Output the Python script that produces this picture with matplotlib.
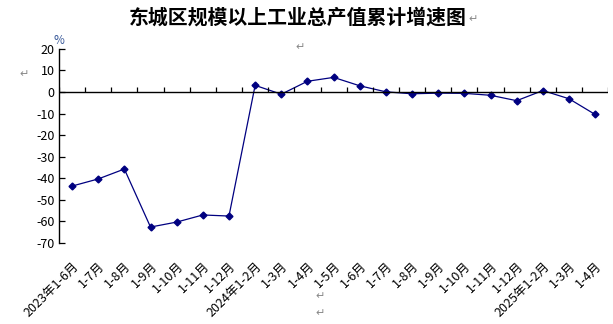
import matplotlib
matplotlib.use("Agg")
import matplotlib.pyplot as plt
import numpy as np

plt.rcParams["font.family"] = ["Noto Sans CJK SC", "DejaVu Sans"]

TITLE = "东城区规模以上工业总产值累计增速图"
periods = [
    "2023年1-6月", "1-7月", "1-8月", "1-9月", "1-10月", "1-11月", "1-12月",
    "2024年1-2月", "1-3月", "1-4月", "1-5月", "1-6月", "1-7月", "1-8月",
    "1-9月", "1-10月", "1-11月", "1-12月",
    "2025年1-2月", "1-3月", "1-4月",
]
growth = [
    -43.6, -40.3, -35.7, -62.6, -60.3, -57.0, -57.5,
    3.1, -1.0, 5.0, 6.8, 2.9, 0.1, -0.8,
    -0.5, -0.6, -1.5, -4.0,
    0.7, -3.1, -10.4,
]
yticks = [20, 10, 0, -10, -20, -30, -40, -50, -60, -70]

fig = plt.figure(figsize=(6.13, 3.24), dpi=100)
ax = fig.add_axes([0.0962, 0.25, 0.896, 0.599])

x = np.arange(len(periods))
ax.plot(x, growth, color="#000080", linewidth=0.9, marker="D",
        markersize=3.5, markerfacecolor="#000080", markeredgecolor="#000080")

ax.set_xlim(-0.5, len(periods) - 0.5)
ax.set_ylim(-70, 20)

# zero line with category boundary ticks
ax.axhline(0, color="black", linewidth=1)
ax.vlines(np.arange(len(periods) + 1) - 0.5, 0, 2.4, color="black", linewidth=0.9)

for side in ("top", "right", "bottom"):
    ax.spines[side].set_visible(False)
ax.spines["left"].set_linewidth(1)

ax.set_yticks(yticks)
ax.set_yticklabels([str(v) for v in yticks], fontsize=9)
ax.tick_params(axis="y", direction="in", length=4, width=0.9, pad=3)

ax.set_xticks(x)
ax.set_xticklabels(periods, rotation=45, ha="right", va="top",
                   rotation_mode="anchor", fontsize=9)
ax.tick_params(axis="x", length=0, pad=12)

fig.text(0.088, 0.875, "%", fontsize=8.5, color="#3a5a9a", ha="left", va="center")
fig.text(0.486, 0.947, TITLE, fontsize=14.3, fontweight="bold",
         ha="center", va="center")

gray = "#888888"
fig.text(0.772, 0.94, "↵", fontsize=8, color=gray, ha="center", va="center")
fig.text(0.49, 0.855, "↵", fontsize=8, color=gray, ha="center", va="center")
fig.text(0.04, 0.77, "↵", fontsize=8, color=gray, ha="center", va="center")
fig.text(0.522, 0.085, "↵", fontsize=8, color=gray, ha="center", va="center")
fig.text(0.522, 0.035, "↵", fontsize=8, color=gray, ha="center", va="center")

fig.savefig("out.png", dpi=100)
